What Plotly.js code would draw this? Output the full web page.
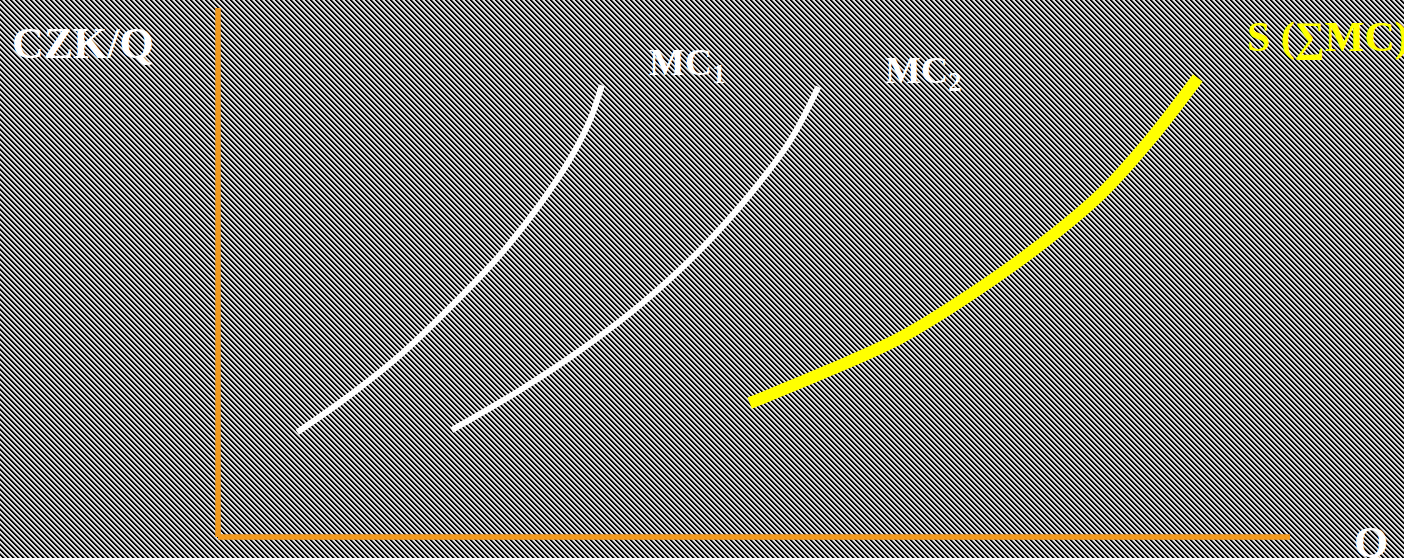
<!DOCTYPE html>
<html>
<head>
<meta charset="utf-8">
<script src="https://cdn.plot.ly/plotly-3.0.1.min.js"></script>
<style>
  html, body { margin: 0; padding: 0; }
  body { width: 1404px; height: 558px; overflow: hidden; background-color: #777; }
  #chart { width: 1404px; height: 558px; }
</style>
</head>
<body>
<div id="chart"></div>
<script>
// Quantity (Q) and price (CZK/Q) readings for each curve, axis range 0-100
const mc1Q = [7.4, 12.3, 17.0, 21.6, 26.3, 30.0, 32.8, 34.7, 35.8];
const mc1P = [19.8, 26.8, 34.4, 43.3, 53.3, 62.8, 71.3, 78.8, 85.4];

const mc2Q = [21.8, 28.2, 33.8, 39.4, 45.0, 49.6, 53.4, 56.0];
const mc2P = [20.2, 27.8, 35.3, 43.9, 54.3, 64.7, 75.0, 85.1];

const sQ = [49.6, 57.1, 63.6, 70.1, 76.7, 82.3, 86.9, 91.4];
const sP = [25.3, 31.6, 37.6, 45.7, 55.2, 64.7, 75.0, 86.8];

const labels = {
  yTitle: 'CZK/Q',
  xTitle: 'Q',
  mc1: 'MC<sub>1</sub>',
  mc2: 'MC<sub>2</sub>',
  s: 'S (∑MC)'
};

// hatched background tile ("\" diagonal stripes)
(function () {
  const n = 5, c = document.createElement('canvas');
  c.width = n; c.height = n;
  const g = c.getContext('2d');
  const cols = ['#000000', '#101010', '#8a8a8a', '#e6e6e6', '#dcdcdc'];
  for (let y = 0; y < n; y++) for (let x = 0; x < n; x++) {
    g.fillStyle = cols[((x - y) % n + n) % n];
    g.fillRect(x, y, 1, 1);
  }
  document.body.style.backgroundImage = 'url(' + c.toDataURL() + ')';
  document.body.style.backgroundRepeat = 'repeat';
})();

const orange = '#f39a1c';
const serif = '"Liberation Serif", "Times New Roman", serif';

const traces = [
  { x: mc1Q, y: mc1P, mode: 'lines', line: { color: '#ffffff', width: 6, shape: 'spline' }, hoverinfo: 'skip' },
  { x: mc2Q, y: mc2P, mode: 'lines', line: { color: '#ffffff', width: 6, shape: 'spline' }, hoverinfo: 'skip' },
  { x: sQ, y: sP, mode: 'lines', line: { color: '#ffff00', width: 12, shape: 'spline' }, hoverinfo: 'skip' }
];

const W = 1404, H = 558, L = 218, R = 1290, T = 8, B = 537;
const px = v => (v - L) / (R - L);
const py = v => (B - v) / (B - T);

const layout = {
  width: W, height: H,
  margin: { l: L, r: W - R, t: T, b: H - B, pad: 0 },
  paper_bgcolor: 'rgba(0,0,0,0)',
  plot_bgcolor: 'rgba(0,0,0,0)',
  showlegend: false,
  xaxis: { range: [0, 100], showgrid: false, zeroline: false, showticklabels: false, ticks: '',
           showline: false, fixedrange: true },
  yaxis: { range: [0, 100], showgrid: false, zeroline: false, showticklabels: false, ticks: '',
           showline: false, fixedrange: true },
  shapes: [
    { type: 'line', xref: 'paper', yref: 'paper', x0: 0, x1: 0, y0: 0, y1: 1, line: { color: orange, width: 5.5 } },
    { type: 'line', xref: 'paper', yref: 'paper', x0: 0, x1: 1, y0: 0, y1: 0, line: { color: orange, width: 5.5 } }
  ],
  annotations: [
    { text: '<b>' + labels.yTitle + '</b>', xref: 'paper', yref: 'paper', x: px(10), y: py(44),
      xanchor: 'left', yanchor: 'middle', showarrow: false, font: { family: serif, size: 44, color: '#ffffff' } },
    { text: '<b>' + labels.mc1 + '</b>', xref: 'paper', yref: 'paper', x: px(647), y: py(65),
      xanchor: 'left', yanchor: 'middle', showarrow: false, font: { family: serif, size: 38, color: '#ffffff' } },
    { text: '<b>' + labels.mc2 + '</b>', xref: 'paper', yref: 'paper', x: px(883), y: py(73),
      xanchor: 'left', yanchor: 'middle', showarrow: false, font: { family: serif, size: 38, color: '#ffffff' } },
    { text: '<b>' + labels.s + '</b>', xref: 'paper', yref: 'paper', x: px(1245), y: py(38),
      xanchor: 'left', yanchor: 'middle', showarrow: false, font: { family: serif, size: 42, color: '#ffff00' } },
    { text: '<b>' + labels.xTitle + '</b>', xref: 'paper', yref: 'paper', x: px(1352), y: py(542),
      xanchor: 'left', yanchor: 'middle', showarrow: false, font: { family: serif, size: 44, color: '#ffffff' } }
  ]
};

Plotly.newPlot('chart', traces, layout, { staticPlot: true, displayModeBar: false });
</script>
</body>
</html>
